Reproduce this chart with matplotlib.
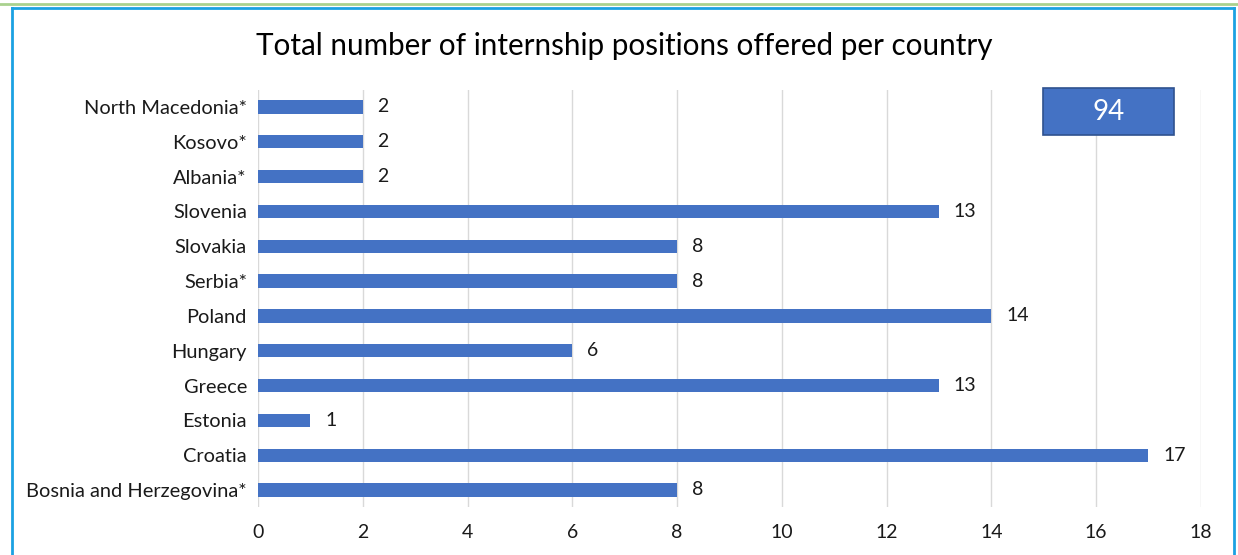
import numpy as np
import matplotlib.pyplot as plt
from matplotlib.patches import Rectangle
from matplotlib.lines import Line2D

###Data
countries = ['Bosnia and Herzegovina*', 'Croatia', 'Estonia', 'Greece', 'Hungary', 'Poland',
             'Serbia*', 'Slovakia', 'Slovenia', 'Albania*', 'Kosovo*', 'North Macedonia*']
positions = [8, 17, 1, 13, 6, 14, 8, 8, 13, 2, 2, 2]
total = 94
xticks = [0, 2, 4, 6, 8, 10, 12, 14, 16, 18]

plt.rcParams['font.family'] = ['Lato', 'DejaVu Sans']

#Figure Settings
fig = plt.figure(figsize=(12.38, 5.55), dpi=100)
ax = fig.add_axes([0.2084, 0.0858, 0.7616, 0.7528])

y = np.arange(len(countries))
ax.barh(y, positions, height=0.38, color='#4472C4', zorder=3)
for yi, v in zip(y, positions):
    ax.text(v + 0.28, yi, str(v), va='center', ha='left', fontsize=14, color='#1a1a1a')

#Axis Limits & Ticks
ax.set_xlim(0, 18)
ax.set_ylim(-0.5, len(countries) - 0.5)
ax.set_xticks(xticks)
ax.set_yticks(y)
ax.set_yticklabels(countries, fontsize=14.4, color='#1a1a1a')
ax.tick_params(axis='x', labelsize=14, labelcolor='#1a1a1a', length=0, pad=12)
ax.tick_params(axis='y', length=0, pad=8)
ax.grid(axis='x', color='#D9D9D9', linewidth=1, zorder=0)
for s in ax.spines.values():
    s.set_visible(False)

#Title
fig.text(0.504, 0.918, 'Total number of internship positions offered per country',
         ha='center', va='center', fontsize=21.3, color='#000000')

#Total box
fig.patches.append(Rectangle((1043 / 1238, 1 - 135 / 555), 131 / 1238, 47 / 555,
                             transform=fig.transFigure, facecolor='#4472C4',
                             edgecolor='#2F528F', linewidth=1.2, zorder=5))
fig.text((1043 + 65.5) / 1238, 1 - 112 / 555, str(total), ha='center', va='center',
         fontsize=20, color='white', zorder=6)

#Frame lines
fig.lines.append(Line2D([0, 1], [1 - 4 / 555, 1 - 4 / 555], transform=fig.transFigure,
                        color='#A9D18E', linewidth=2))
fig.lines.append(Line2D([11.5 / 1238, 1233.5 / 1238], [1 - 7.5 / 555, 1 - 7.5 / 555],
                        transform=fig.transFigure, color='#1BA1E2', linewidth=2))
fig.lines.append(Line2D([11.5 / 1238, 11.5 / 1238], [0, 1 - 7.5 / 555],
                        transform=fig.transFigure, color='#1BA1E2', linewidth=2))
fig.lines.append(Line2D([1233.5 / 1238, 1233.5 / 1238], [0, 1 - 7.5 / 555],
                        transform=fig.transFigure, color='#1BA1E2', linewidth=2))

plt.savefig('out.png', dpi=100)
